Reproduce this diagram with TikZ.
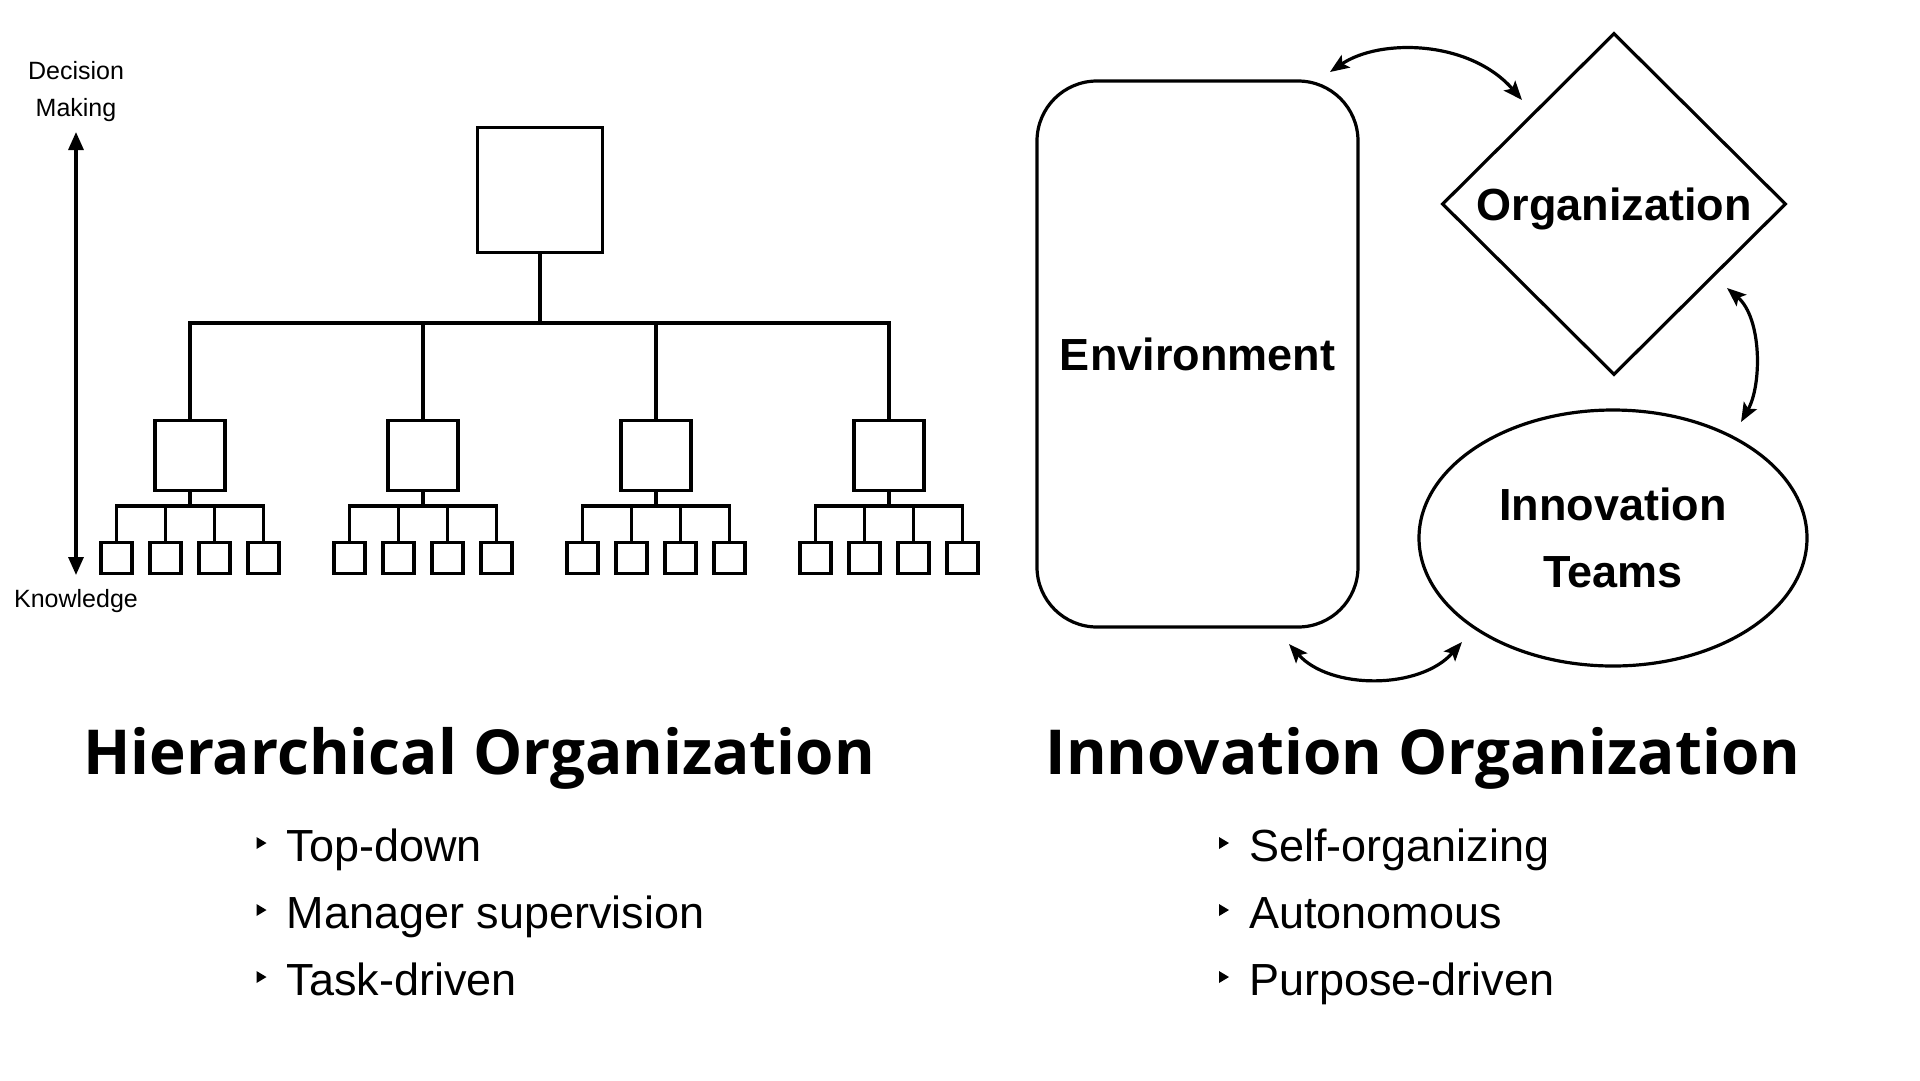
\documentclass[tikz,border=0pt]{standalone}
\usepackage{fontspec}
\setmainfont{Liberation Sans}
\newfontfamily\titlefont{Open Sans}
\usetikzlibrary{shapes.geometric,arrows.meta,calc}
\begin{document}
\begin{tikzpicture}[x=1pt,y=-1pt,
  box/.style={draw,line width=3.4pt,inner sep=0pt,minimum size=#1},
  tree/.style={line width=3.4pt},
  shapeline/.style={draw,line width=3.2pt,inner sep=0pt,font=\bfseries\fontsize{45}{67}\selectfont,align=center},
  twoway/.style={line width=3.2pt,{Stealth[length=19pt,width=15pt,inset=4pt]}-{Stealth[length=19pt,width=15pt,inset=4pt]}},
  smalllabel/.style={inner sep=0pt,font=\fontsize{25}{30}\selectfont},
  titletext/.style={inner sep=0pt,anchor=base,font=\titlefont\bfseries\fontsize{62}{70}\selectfont},
  bullettext/.style={inner sep=0pt,anchor=base west,font=\fontsize{45}{54}\selectfont},
]
\useasboundingbox (0,0) rectangle (1920,1080);
\fill[white] (0,0) rectangle (1920,1080);

% ---------------- Hierarchy ----------------
\node[smalllabel] (dec) at (76,71) {Decision};
\node[smalllabel] (mak) at (76,110) {Making};
\node[smalllabel] (kno) at (76,601) {Knowledge};
\coordinate (axtop) at (76,132);
\coordinate (axbot) at (76,575);
\draw[line width=3.2pt,{Triangle[length=18pt,width=15pt]}-{Triangle[length=18pt,width=15pt]}] (axtop) -- (axbot);

\node[box=125pt] (top) at (540,190) {};
\coordinate (bus) at (540,323);
\foreach \i/\cx in {1/190,2/423,3/656,4/889} {
  \node[box=70pt] (m\i) at (\cx,455.5) {};
  \foreach \j/\dx in {1/-73.5,2/-24.5,3/24.5,4/73.5} {
    \node[box=31pt] (l\i\j) at ({\cx+\dx},558) {};
  }
  \coordinate (sb\i) at (\cx,506);
  \draw[tree] (m\i.south) -- (sb\i);
  \draw[tree] (l\i1.north) |- (sb\i) -| (l\i4.north);
  \draw[tree] (l\i2.north) -- (l\i2.north |- sb\i);
  \draw[tree] (l\i3.north) -- (l\i3.north |- sb\i);
}
\draw[tree] (top.south) -- (bus);
\draw[tree] (m1.north) |- (bus) -| (m4.north);
\draw[tree] (m2.north) -- (m2.north |- bus);
\draw[tree] (m3.north) -- (m3.north |- bus);

% ---------------- Innovation ----------------
\node[shapeline,rounded corners=60pt,minimum width=321pt,minimum height=546pt] (env) at (1197.5,354) {Environment};
\node[shapeline,diamond,text depth=0pt,minimum width=344pt,minimum height=342pt] (org) at (1614,204) {Organization};
\node[shapeline,ellipse,minimum width=388pt,minimum height=256pt] (team) at (1613,538) {Innovation\\Teams};

\coordinate (a1s) at (1330,72);
\coordinate (a1e) at (1522,100);
\coordinate (a2s) at (1727,288);
\coordinate (a2e) at (1741,422);
\coordinate (a3s) at (1289,644);
\coordinate (a3e) at (1462,642);
\draw[twoway] (a1s) .. controls (1380,38) and (1470,40) .. (a1e);
\draw[twoway] (a2s) .. controls (1762,318) and (1762,385) .. (a2e);
\draw[twoway] (a3s) .. controls (1330,690) and (1420,690) .. (a3e);

% ---------------- Titles and bullets ----------------
\node[titletext] (t1) at (479,774) {Hierarchical Organization};
\node[titletext] (t2) at (1423,774) {Innovation Organization};

\node[bullettext] (b1) at (286.5,861) {Top-down};
\node[bullettext] (b2) at (286.5,928) {Manager supervision};
\node[bullettext] (b3) at (286.5,995) {Task-driven};
\node[bullettext] (c1) at (1249,861) {Self-organizing};
\node[bullettext] (c2) at (1249,928) {Autonomous};
\node[bullettext] (c3) at (1249,995) {Purpose-driven};
\foreach \n in {b1,b2,b3,c1,c2,c3} {
  \fill ($(\n.base west)+(-30,-24)$) -- ++(10,6) -- ++(-10,6) -- cycle;
}
\end{tikzpicture}
\end{document}
